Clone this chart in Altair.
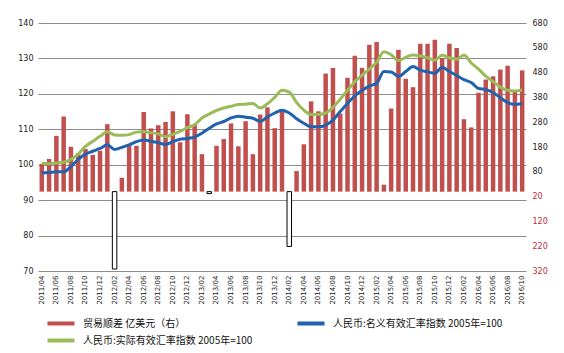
import altair as alt
import pandas as pd

months = [
    "2011/04", "2011/05", "2011/06", "2011/07", "2011/08", "2011/09", "2011/10", "2011/11", "2011/12",
    "2012/01", "2012/02", "2012/03", "2012/04", "2012/05", "2012/06", "2012/07", "2012/08", "2012/09",
    "2012/10", "2012/11", "2012/12",
    "2013/01", "2013/02", "2013/03", "2013/04", "2013/05", "2013/06", "2013/07", "2013/08", "2013/09",
    "2013/10", "2013/11", "2013/12",
    "2014/01", "2014/02", "2014/03", "2014/04", "2014/05", "2014/06", "2014/07", "2014/08", "2014/09",
    "2014/10", "2014/11", "2014/12",
    "2015/01", "2015/02", "2015/03", "2015/04", "2015/05", "2015/06", "2015/07", "2015/08", "2015/09",
    "2015/10", "2015/11", "2015/12",
    "2016/01", "2016/02", "2016/03", "2016/04", "2016/05", "2016/06", "2016/07", "2016/08", "2016/09",
    "2016/10",
]

# 贸易顺差 亿美元 (right axis)
trade = [
    112, 132, 225, 303, 181, 155, 172, 148, 165,
    272, -312, 56, 185, 185, 321, 255, 268, 281, 324, 199, 312,
    272, 151, -8, 185, 212, 275, 183, 284, 151, 311, 340, 256,
    324, -221, 83, 191, 364, 324, 476, 499, 315, 459, 548, 499,
    592, 603, 28, 335, 572, 455, 421, 596, 596, 612, 539, 596,
    579, 292, 259, 399, 452, 465, 492, 508, 409, 489,
]

# 人民币:名义有效汇率指数 2005年=100 (left axis)
neer = [
    97.7, 97.8, 98.0, 98.0, 99.5, 101.5, 103.0, 103.8, 104.6,
    105.6, 104.3, 104.9, 105.6, 106.5, 107.0, 106.6, 106.2, 105.7, 106.5, 107.2, 107.4,
    107.8, 108.9, 110.3, 111.5, 112.2, 113.2, 113.7, 113.4, 113.1, 112.2, 113.5, 114.6,
    115.4, 114.6, 113.0, 111.7, 110.7, 110.7, 111.2, 112.6, 115.0, 117.3, 119.4, 121.0,
    122.2, 123.0, 126.3, 126.2, 124.9, 126.3, 127.7, 126.7, 126.2, 125.8, 127.5, 126.3,
    125.2, 124.0, 123.2, 121.5, 121.2, 120.4, 118.9, 117.5, 117.0, 117.3,
]

# 人民币:实际有效汇率指数 2005年=100 (left axis)
reer = [
    100.4, 100.3, 100.5, 100.7, 101.5, 103.0, 105.2, 106.6, 108.0,
    109.3, 108.4, 108.3, 108.5, 109.2, 109.3, 109.0, 108.7, 107.9, 108.6, 109.4, 110.5,
    111.3, 113.2, 114.3, 115.3, 116.0, 116.5, 117.0, 117.1, 117.3, 116.0, 117.2, 119.0,
    121.0, 120.5, 117.6, 115.4, 114.2, 114.2, 114.6, 116.2, 118.5, 121.0, 123.4, 125.3,
    127.0, 128.9, 131.9, 131.0, 129.4, 130.3, 131.0, 130.7, 130.2, 129.5, 130.9, 130.2,
    129.8, 131.0, 128.7, 127.0, 125.0, 123.5, 121.9, 121.0, 120.8, 121.1,
]

TRADE = "贸易顺差 亿美元（右）"
NEER = "人民币:名义有效汇率指数 2005年=100"
REER = "人民币:实际有效汇率指数 2005年=100"

RED = "#C0504D"
BLUE = "#1F63B0"
GREEN = "#9BBB59"

label_months = [m for m in months if int(m[-2:]) % 2 == 0]

bars_df = pd.DataFrame({"month": months, "trade": trade})
lines_df = pd.concat([
    pd.DataFrame({"month": months, "value": neer, "series": NEER, "order": 0}),
    pd.DataFrame({"month": months, "value": reer, "series": REER, "order": 1}),
])

FONT = "Noto Sans CJK SC"

x_enc = alt.X(
    "month:O",
    sort=months,
    title=None,
    scale=alt.Scale(paddingInner=0.35, paddingOuter=0.2),
    axis=alt.Axis(
        values=label_months, labelAngle=270, labelAlign="right", labelBaseline="middle",
        labelFontSize=7, labelPadding=4, ticks=False, domain=False, labelColor="#222",
        labelFont="DejaVu Sans",
    ),
)

y_right = alt.Y(
    "trade:Q",
    title=None,
    scale=alt.Scale(domain=[-320, 680], nice=False, zero=False),
    axis=alt.Axis(
        orient="right", values=list(range(-320, 681, 100)), grid=False, ticks=False, domain=False,
        labelExpr="format(abs(datum.value), 'd')",
        labelColor={"condition": {"test": "datum.value < 0", "value": "#C0283C"}, "value": "#222"},
        labelFontSize=8, labelPadding=6, labelFont="DejaVu Sans",
    ),
)

pos_bars = alt.Chart(bars_df).transform_filter("datum.trade >= 0").mark_bar(
    size=4.5, color=RED
).encode(x=x_enc, y=y_right)

neg_bars = alt.Chart(bars_df).transform_filter("datum.trade < 0").mark_bar(
    size=4.5, fill="white", stroke="black", strokeWidth=1
).encode(x=x_enc, y=y_right)

bars = alt.layer(pos_bars, neg_bars)

lines = alt.Chart(lines_df).mark_line(strokeWidth=3, interpolate="monotone").encode(
    x=x_enc,
    y=alt.Y(
        "value:Q",
        title=None,
        scale=alt.Scale(domain=[70, 140], nice=False, zero=False),
        axis=alt.Axis(
            orient="left", values=list(range(70, 141, 10)), grid=True, gridColor="#8c8c8c",
            gridWidth=1, ticks=False, domain=False, labelFontSize=8, labelPadding=5,
            labelColor="#222", labelFont="DejaVu Sans",
        ),
    ),
    color=alt.Color(
        "series:N",
        scale=alt.Scale(domain=[TRADE, NEER, REER], range=[RED, BLUE, GREEN]),
        legend=alt.Legend(
            title=None, orient="none", legendX=7, legendY=294, direction="horizontal",
            columns=2, columnPadding=42, rowPadding=4, clipHeight=13,
            symbolType="stroke", symbolSize=730,
            symbolStrokeWidth=4, labelFontSize=10, labelFont=FONT, labelLimit=400,
            labelOffset=6, padding=0, labelColor="#111",
        ),
    ),
    detail="order:O",
)

chart = alt.layer(bars, lines).resolve_scale(y="independent").properties(
    width=488,
    height=248,
    autosize=alt.AutoSizeParams(type="none"),
    padding={"left": 38, "top": 23, "right": 38, "bottom": 82},
    background="white",
).configure_view(stroke=None)

chart.save("out.html", embed_options={"renderer": "svg", "actions": False})
